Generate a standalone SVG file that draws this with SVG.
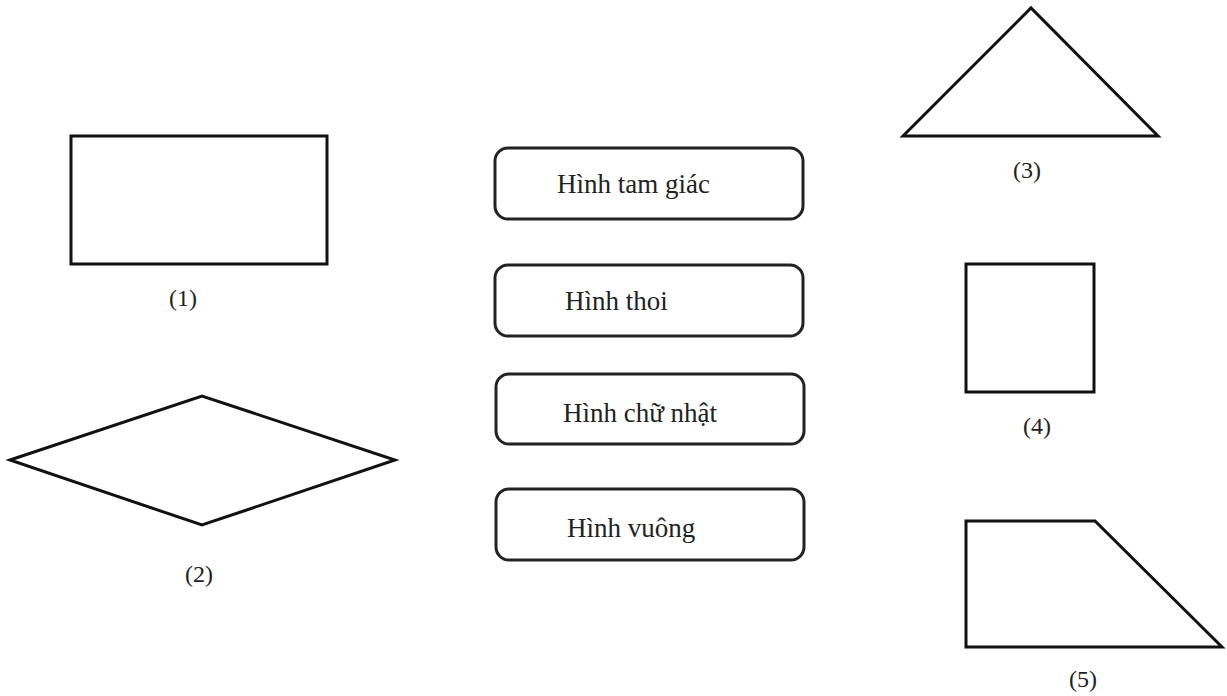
<svg xmlns="http://www.w3.org/2000/svg" width="1227" height="696" viewBox="0 0 1227 696">
<style>
.shape{fill:#fff;stroke:#111;stroke-width:3;stroke-linejoin:miter}
.box{fill:#fff;stroke:#222;stroke-width:3}
.lbl{font-family:"Liberation Serif","Times New Roman",serif;font-size:24px;fill:#222;text-anchor:middle}
.txt{font-family:"Liberation Serif","Times New Roman",serif;font-size:27px;fill:#222}
</style>
<rect width="1227" height="696" fill="#fff"/>
<g id="shape1">
<rect class="shape" x="71" y="136" width="256" height="128"/>
<text class="lbl" x="183" y="306">(1)</text>
</g>
<g id="shape2">
<polygon class="shape" points="10,460 202,396 395,460 202,525"/>
<text class="lbl" x="199" y="582">(2)</text>
</g>
<g id="shape3">
<polygon class="shape" points="903,136 1031,8 1158,136"/>
<text class="lbl" x="1027" y="178">(3)</text>
</g>
<g id="shape4">
<rect class="shape" x="966" y="264" width="128" height="128"/>
<text class="lbl" x="1037" y="434">(4)</text>
</g>
<g id="shape5">
<polygon class="shape" points="966,521 1095,521 1222,647 966,647"/>
<text class="lbl" x="1083" y="687">(5)</text>
</g>
<g id="box1">
<rect class="box" x="495" y="148" width="308" height="71" rx="13"/>
<text class="txt" x="557" y="193">Hình tam giác</text>
</g>
<g id="box2">
<rect class="box" x="495" y="265" width="308" height="71" rx="13"/>
<text class="txt" x="565" y="310">Hình thoi</text>
</g>
<g id="box3">
<rect class="box" x="496" y="374" width="308" height="70" rx="13"/>
<text class="txt" x="563" y="422">Hình chữ nhật</text>
</g>
<g id="box4">
<rect class="box" x="496" y="489" width="308" height="71" rx="13"/>
<text class="txt" x="567" y="537">Hình vuông</text>
</g>
<g id="connectors"></g>
</svg>
